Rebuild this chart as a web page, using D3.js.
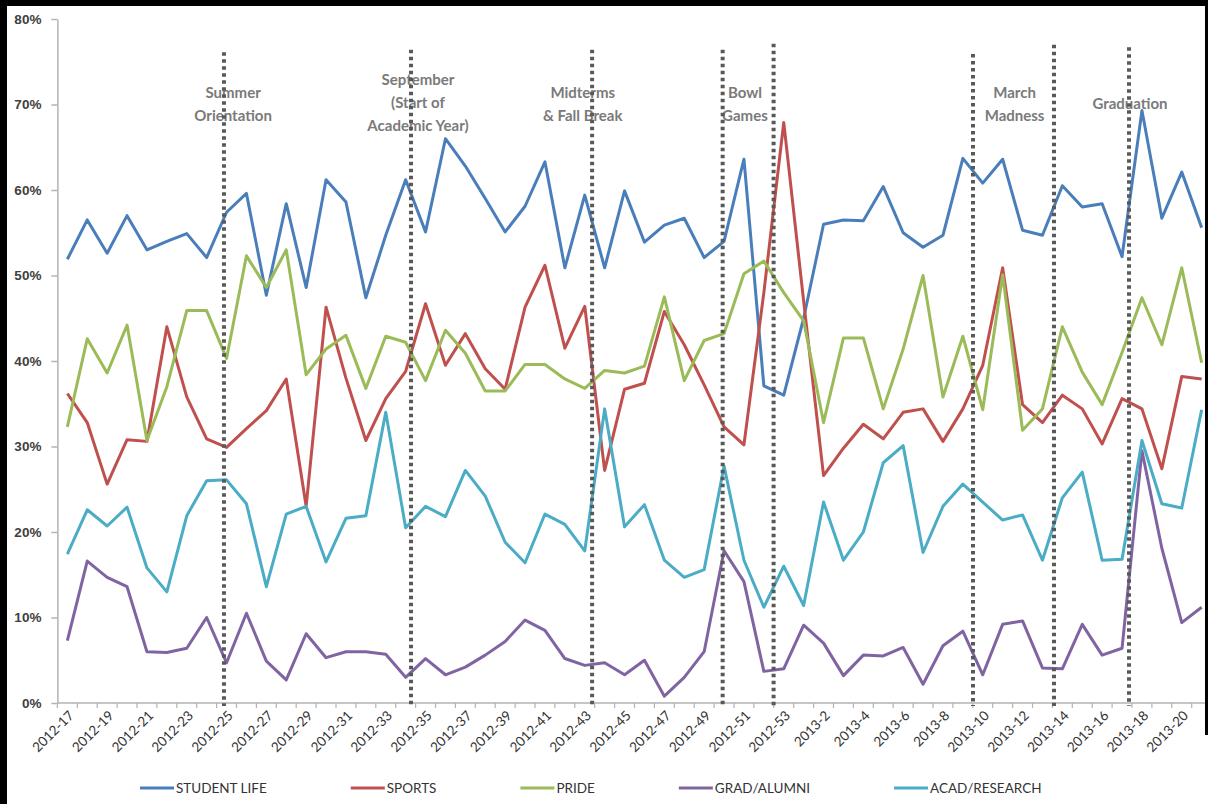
<!DOCTYPE html>
<html>
<head>
<meta charset="utf-8">
<script src="https://cdn.jsdelivr.net/npm/d3@7"></script>
<style>
  body { margin: 0; background: #fff; }
  svg { display: block; font-family: Lato, "Open Sans", sans-serif; }
</style>
</head>
<body>
<div id="viz_container"></div>
<script>
// categories (year-week)
const weeks = [
    "2012-17", "2012-18", "2012-19", "2012-20", "2012-21", "2012-22", "2012-23", "2012-24", "2012-25", "2012-26",
    "2012-27", "2012-28", "2012-29", "2012-30", "2012-31", "2012-32", "2012-33", "2012-34", "2012-35", "2012-36",
    "2012-37", "2012-38", "2012-39", "2012-40", "2012-41", "2012-42", "2012-43", "2012-44", "2012-45", "2012-46",
    "2012-47", "2012-48", "2012-49", "2012-50", "2012-51", "2012-52", "2012-53", "2013-1", "2013-2", "2013-3",
    "2013-4", "2013-5", "2013-6", "2013-7", "2013-8", "2013-9", "2013-10", "2013-11", "2013-12", "2013-13",
    "2013-14", "2013-15", "2013-16", "2013-17", "2013-18", "2013-19", "2013-20", "2013-21"
];

// series values (%)
const studentLife = [
    51.9, 56.5, 52.6, 57.0, 53.0, 54.0, 54.9, 52.1, 57.4, 59.6,
    47.7, 58.4, 48.6, 61.2, 58.6, 47.4, 54.7, 61.2, 55.1, 66.0,
    62.8, 59.0, 55.1, 58.1, 63.3, 50.9, 59.4, 50.9, 59.9, 53.9,
    55.9, 56.7, 52.1, 54.0, 63.6, 37.1, 36.0, 45.0, 56.0, 56.5,
    56.4, 60.4, 55.0, 53.3, 54.7, 63.7, 60.8, 63.6, 55.3, 54.7,
    60.5, 58.0, 58.4, 52.2, 69.3, 56.7, 62.1, 55.6
];
const sports = [
    36.2, 32.8, 25.6, 30.8, 30.6, 44.0, 35.8, 30.9, 29.9, 32.1,
    34.2, 37.9, 23.0, 46.3, 38.0, 30.7, 35.6, 38.8, 46.7, 39.5,
    43.2, 39.1, 36.7, 46.3, 51.2, 41.5, 46.4, 27.2, 36.7, 37.4,
    45.8, 41.9, 37.2, 32.3, 30.2, 48.0, 67.9, 47.0, 26.6, 29.8,
    32.6, 30.9, 34.0, 34.4, 30.6, 34.4, 39.5, 50.9, 34.9, 32.8,
    36.0, 34.4, 30.3, 35.6, 34.4, 27.4, 38.2, 37.9
];
const pride = [
    32.3, 42.6, 38.6, 44.2, 30.7, 37.0, 45.9, 45.9, 40.3, 52.3,
    48.6, 53.0, 38.4, 41.4, 43.0, 36.8, 42.9, 42.2, 37.7, 43.6,
    40.9, 36.5, 36.5, 39.6, 39.6, 37.9, 36.8, 38.9, 38.6, 39.4,
    47.5, 37.7, 42.4, 43.2, 50.2, 51.7, 48.0, 44.7, 32.8, 42.7,
    42.7, 34.4, 41.4, 50.0, 35.8, 42.9, 34.3, 50.1, 31.9, 34.4,
    44.0, 38.7, 34.9, 41.0, 47.4, 41.9, 50.9, 39.8
];
const gradAlumni = [
    7.3, 16.6, 14.7, 13.6, 6.0, 5.9, 6.4, 10.0, 4.7, 10.5,
    4.9, 2.7, 8.1, 5.3, 6.0, 6.0, 5.7, 3.0, 5.2, 3.3,
    4.2, 5.6, 7.2, 9.7, 8.5, 5.2, 4.4, 4.7, 3.3, 5.0,
    0.8, 3.0, 6.0, 17.8, 14.2, 3.7, 4.0, 9.1, 7.0, 3.2,
    5.6, 5.5, 6.5, 2.2, 6.7, 8.4, 3.3, 9.2, 9.6, 4.1,
    4.0, 9.2, 5.6, 6.4, 29.5, 18.1, 9.4, 11.2
];
const acadResearch = [
    17.4, 22.6, 20.7, 22.9, 15.8, 13.0, 21.9, 26.0, 26.1, 23.3,
    13.6, 22.1, 23.0, 16.5, 21.6, 21.9, 34.0, 20.5, 23.0, 21.8,
    27.2, 24.2, 18.8, 16.4, 22.1, 20.9, 17.8, 34.4, 20.6, 23.2,
    16.7, 14.7, 15.6, 27.7, 16.7, 11.2, 16.0, 11.4, 23.5, 16.7,
    20.0, 28.1, 30.1, 17.6, 23.0, 25.6, 23.5, 21.4, 22.0, 16.7,
    24.0, 27.0, 16.7, 16.8, 30.7, 23.3, 22.8, 34.3
];

const seriesNames = ["STUDENT LIFE", "SPORTS", "PRIDE", "GRAD/ALUMNI", "ACAD/RESEARCH"];
const seriesValues = [studentLife, sports, pride, gradAlumni, acadResearch];
const seriesColors = ["#4A7EBB", "#C0504D", "#9BBB59", "#8064A2", "#4BACC6"];

// y ticks (fraction)
const yTicks = [0, 0.1, 0.2, 0.3, 0.4, 0.5, 0.6, 0.7, 0.8];

// event markers: dotted lines (category index, top %) and labels (category index, lines)
const eventLineIdx = [7.87, 17.27, 26.37, 32.93, 35.49, 45.51, 49.58, 53.35];
const eventLineTop = [76.1, 76.4, 76.4, 76.4, 77.1, 75.9, 77.0, 76.7];
const eventLabelIdx = [8.33, 17.62, 25.9, 34.05, 47.6, 53.4];
const eventLabelTop = [70.8, 72.3, 70.8, 70.8, 70.8, 69.5];
const eventLabels = [
    ["Summer", "Orientation"],
    ["September", "(Start of", "Academic Year)"],
    ["Midterms", "& Fall Break"],
    ["Bowl", "Games"],
    ["March", "Madness"],
    ["Graduation"]
];

const width = 1208, height = 804;
const margin = { top: 19, left: 57.4, bottom: 101 };
const step = 19.9;

const svg = d3.select("#viz_container")
    .append("svg")
    .attr("width", width)
    .attr("height", height);

svg.append("rect").attr("width", width).attr("height", height).attr("fill", "#fff");

// scales
const xScale = d3.scaleBand()
    .domain(weeks)
    .range([margin.left, margin.left + step * weeks.length]);
const yScale = d3.scaleLinear()
    .domain([0, 0.8])
    .range([height - margin.bottom, margin.top]);
const xAt = i => margin.left + (i + 0.5) * xScale.step();
const y0 = yScale(0);

// y axis
const yAxis = svg.append("g")
    .attr("transform", `translate(${margin.left},0)`)
    .call(d3.axisLeft(yScale).tickValues(yTicks).tickSize(6).tickSizeOuter(0).tickPadding(10).tickFormat(d3.format(".0%")));
yAxis.select(".domain").attr("stroke", "#b3b3b3").attr("stroke-width", 1.5);
yAxis.selectAll(".tick line").attr("stroke", "#b3b3b3").attr("stroke-width", 1.5);
yAxis.selectAll(".tick text")
    .attr("fill", "#404040")
    .style("font-size", "13.5px")
    .style("font-weight", "bold");

// x axis, ticks between categories
const xAxis = svg.append("g");
xAxis.append("line")
    .attr("x1", margin.left).attr("x2", width)
    .attr("y1", y0).attr("y2", y0)
    .attr("stroke", "#b3b3b3").attr("stroke-width", 1.5);
xAxis.selectAll(".xtick")
    .data(weeks)
    .join("line")
    .attr("class", "xtick")
    .attr("x1", d => xScale(d)).attr("x2", d => xScale(d))
    .attr("y1", y0).attr("y2", y0 + 5)
    .attr("stroke", "#b3b3b3").attr("stroke-width", 1.2);
xAxis.selectAll(".xlabel")
    .data(weeks.filter((d, i) => i % 2 === 0))
    .join("text")
    .attr("class", "xlabel")
    .attr("transform", d => `translate(${xScale(d) + xScale.bandwidth() / 2 + 4},${y0 + 10}) rotate(-45)`)
    .attr("text-anchor", "end")
    .attr("dy", "0.35em")
    .attr("fill", "#333")
    .style("font-size", "13.5px")
    .text(d => d);

// series lines
const line = d3.line()
    .x((d, i) => xScale(weeks[i]) + xScale.bandwidth() / 2)
    .y(d => yScale(d / 100));
svg.append("g")
    .selectAll("path")
    .data(seriesValues)
    .join("path")
    .attr("d", d => line(d))
    .attr("fill", "none")
    .attr("stroke", (d, i) => seriesColors[i])
    .attr("stroke-width", 3)
    .attr("stroke-linejoin", "round");

// event labels
const labels = svg.append("g")
    .selectAll("text")
    .data(eventLabels)
    .join("text")
    .attr("x", (d, i) => xAt(eventLabelIdx[i]))
    .attr("y", (d, i) => yScale(eventLabelTop[i] / 100))
    .attr("text-anchor", "middle")
    .attr("fill", "#7a7a7a")
    .style("font-size", "15px")
    .style("font-weight", "bold");
labels.selectAll("tspan")
    .data(d => d)
    .join("tspan")
    .attr("x", function () { return this.parentNode.getAttribute("x"); })
    .attr("dy", (d, i) => i === 0 ? 0 : 23)
    .text(d => d);

// event dotted lines
svg.append("g")
    .selectAll("line")
    .data(eventLineIdx)
    .join("line")
    .attr("x1", d => xAt(d)).attr("x2", d => xAt(d))
    .attr("y1", (d, i) => yScale(eventLineTop[i] / 100))
    .attr("y2", y0 + 3)
    .attr("stroke", "#595959")
    .attr("stroke-width", 4)
    .attr("stroke-dasharray", "3.5,3.5");

// legend
const legend = svg.append("g").attr("transform", "translate(140,788)");
let lx = 0;
seriesNames.forEach((name, i) => {
    legend.append("line")
        .attr("x1", lx).attr("x2", lx + 34)
        .attr("y1", 0).attr("y2", 0)
        .attr("stroke", seriesColors[i])
        .attr("stroke-width", 3);
    const t = legend.append("text")
        .attr("x", lx + 36)
        .attr("y", 0)
        .attr("dy", "0.36em")
        .attr("fill", "#333")
        .style("font-size", "13.5px")
        .text(name);
    lx += 36 + t.node().getComputedTextLength() + 84;
});

// dark frame from the scanned page
svg.append("rect").attr("x", 0).attr("y", 0).attr("width", width).attr("height", 6).attr("fill", "#000");
svg.append("rect").attr("x", 0).attr("y", 0).attr("width", 7).attr("height", height).attr("fill", "#000");
svg.append("rect").attr("x", width - 3).attr("y", 0).attr("width", 3).attr("height", 735).attr("fill", "#000");
</script>
</body>
</html>
